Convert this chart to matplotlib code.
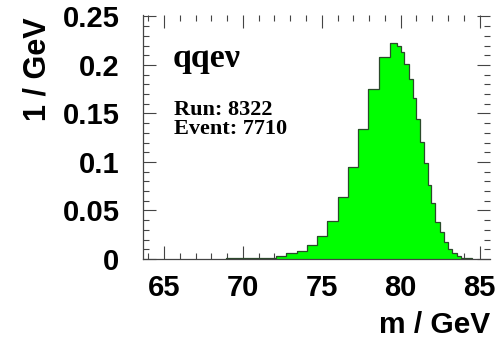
import matplotlib
matplotlib.use("Agg")
import matplotlib.pyplot as plt
from matplotlib.ticker import MultipleLocator

# ---- data ----
bin_edges = [68.9, 70.8, 71.45, 72.1, 72.75, 73.4, 74.05, 74.7, 75.35, 76.0,
             76.65, 77.3, 77.95, 78.6, 79.3, 79.75, 80.0, 80.2, 80.5, 80.75,
             81.0, 81.25, 81.5, 81.7, 81.9, 82.2, 82.5, 82.75, 83.0, 83.25,
             83.55, 83.85, 84.2, 84.5]
bin_values = [0.0006, 0.0009, 0.0014, 0.0030, 0.0059, 0.0079, 0.0142, 0.0240,
              0.0395, 0.0636, 0.0945, 0.1337, 0.1750, 0.2080, 0.2223, 0.2196,
              0.2130, 0.2007, 0.1860, 0.1657, 0.1440, 0.1210, 0.0987, 0.0763,
              0.0574, 0.0385, 0.0282, 0.0178, 0.0100, 0.0059, 0.0034, 0.0015,
              0.0007]
x_ticks = [65, 70, 75, 80, 85]
x_tick_labels = ["65", "70", "75", "80", "85"]
y_ticks = [0, 0.05, 0.1, 0.15, 0.2, 0.25]
y_tick_labels = ["0", "0.05", "0.1", "0.15", "0.2", "0.25"]
channel = "qqe\u03bd"
run_text = "Run: 8322"
event_text = "Event: 7710"
x_title = "m / GeV"
y_title = "1 / GeV"

W, H = 504, 338
fig = plt.figure(figsize=(W / 100, H / 100), dpi=100)
left, right, bottom, top = 143, 490, 259, 15
ax = fig.add_axes([left / W, 1 - bottom / H, (right - left) / W, (bottom - top) / H])

ax.stairs(bin_values, bin_edges, fill=True, color="#00ff00", zorder=2)
ax.stairs(bin_values, bin_edges, fill=False, color="#2a4a2a", linewidth=0.9, zorder=3)

ax.set_xlim(63.67, 85.66)
ax.set_ylim(0, 0.2515)

ax.set_xticks(x_ticks)
ax.set_xticklabels(x_tick_labels)
ax.set_yticks(y_ticks)
ax.set_yticklabels(y_tick_labels)
ax.xaxis.set_minor_locator(MultipleLocator(1))
ax.yaxis.set_minor_locator(MultipleLocator(0.01))

sans = ["Liberation Sans", "DejaVu Sans"]
for lab in ax.get_xticklabels() + ax.get_yticklabels():
    lab.set_fontfamily(sans)
    lab.set_fontweight("bold")
    lab.set_fontsize(21)

ax.tick_params(which="both", direction="in", top=True, right=True,
               color="#444444", width=0.8)
ax.tick_params(which="major", length=9.4)
ax.tick_params(which="minor", length=4.5)
ax.tick_params(axis="x", which="major", pad=11)
ax.tick_params(axis="y", which="major", pad=17)

for s in ["top", "right"]:
    ax.spines[s].set_visible(False)
for s in ["left", "bottom"]:
    ax.spines[s].set_color("#444444")
    ax.spines[s].set_linewidth(0.9)
    ax.spines[s].set_zorder(4)

fig.text(490 / W, 1 - 325 / H, x_title, ha="right", va="center",
         fontfamily=sans, fontweight="bold", fontsize=21.5)
fig.text(38 / W, 1 - 17 / H, y_title, ha="center", va="top", rotation=90,
         fontfamily=sans, fontweight="bold", fontsize=22)

serif = ["Liberation Serif", "DejaVu Serif"]
fig.text(173 / W, 1 - 67 / H, channel, ha="left", va="baseline",
         fontfamily=serif, fontweight="bold", fontsize=24.5)
fig.text(174 / W, 1 - 115 / H, run_text, ha="left", va="baseline",
         fontfamily=serif, fontweight="bold", fontsize=16)
fig.text(174 / W, 1 - 134.5 / H, event_text, ha="left", va="baseline",
         fontfamily=serif, fontweight="bold", fontsize=16)

fig.savefig("out.png", dpi=100)
